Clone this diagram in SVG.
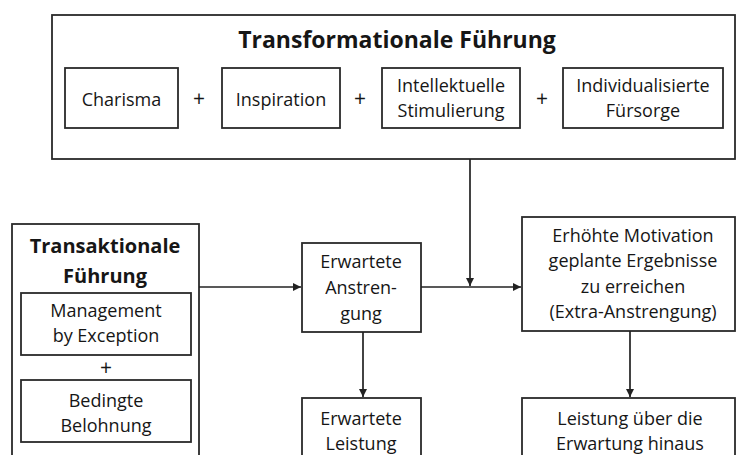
<svg xmlns="http://www.w3.org/2000/svg" width="736" height="455" viewBox="0 0 736 455">
<style>
.box{fill:#fff;stroke:#2a2a2a;stroke-width:1.8}
.t{font-family:"Open Sans","Liberation Sans",sans-serif;font-size:18px;fill:#161616;text-anchor:middle}
.p{font-size:21px}
.b{font-weight:bold;font-size:20px}
.h{font-weight:bold;font-size:23px}
.c{stroke:#222;stroke-width:1.7;fill:none}
</style>
<defs>
<marker id="ar" viewBox="0 0 10 10" refX="10" refY="5" markerWidth="9" markerHeight="8" markerUnits="userSpaceOnUse" orient="auto">
<path d="M0,0 L10,5 L0,10 z" fill="#222"/>
</marker>
</defs>
<rect width="736" height="455" fill="#fff"/>
<g id="transformational">
<rect class="box" x="52" y="15" width="683" height="144"/>
<text class="t h" x="397" y="48">Transformationale Führung</text>
</g>
<g id="charisma">
<rect class="box" x="65" y="68" width="113" height="60"/>
<text class="t" x="121.5" y="106">Charisma</text>
</g>
<text class="t p" x="199" y="106">+</text>
<g id="inspiration">
<rect class="box" x="222" y="68" width="118" height="60"/>
<text class="t" x="281" y="106">Inspiration</text>
</g>
<text class="t p" x="360" y="106">+</text>
<g id="stimulierung">
<rect class="box" x="382" y="68" width="138" height="60"/>
<text class="t" x="451" y="92">Intellektuelle</text>
<text class="t" x="451" y="117">Stimulierung</text>
</g>
<text class="t p" x="542" y="106">+</text>
<g id="fuersorge">
<rect class="box" x="563" y="68" width="160" height="60"/>
<text class="t" x="643" y="92">Individualisierte</text>
<text class="t" x="643" y="117">Fürsorge</text>
</g>
<g id="transaktional">
<rect class="box" x="12" y="224" width="187" height="240"/>
<text class="t b" x="105" y="253">Transaktionale</text>
<text class="t b" x="105" y="283">Führung</text>
</g>
<g id="management">
<rect class="box" x="21" y="293" width="170" height="62"/>
<text class="t" x="106" y="317">Management</text>
<text class="t" x="106" y="342">by Exception</text>
</g>
<text class="t p" x="106" y="375">+</text>
<g id="belohnung">
<rect class="box" x="21" y="380" width="170" height="62"/>
<text class="t" x="106" y="407">Bedingte</text>
<text class="t" x="106" y="432">Belohnung</text>
</g>
<g id="erw-anstrengung">
<rect class="box" x="302" y="243" width="119" height="89"/>
<text class="t" x="361" y="268">Erwartete</text>
<text class="t" x="361" y="294">Anstren-</text>
<text class="t" x="361" y="320">gung</text>
</g>
<g id="motivation">
<rect class="box" x="522" y="217" width="213" height="114"/>
<text class="t" x="633" y="242">Erhöhte Motivation</text>
<text class="t" x="633" y="267">geplante Ergebnisse</text>
<text class="t" x="633" y="293">zu erreichen</text>
<text class="t" x="633" y="318">(Extra-Anstrengung)</text>
</g>
<g id="erw-leistung">
<rect class="box" x="302" y="398" width="119" height="70"/>
<text class="t" x="361" y="425">Erwartete</text>
<text class="t" x="361" y="450">Leistung</text>
</g>
<g id="leistung">
<rect class="box" x="522" y="398" width="213" height="70"/>
<text class="t" x="630" y="425">Leistung über die</text>
<text class="t" x="630" y="450">Erwartung hinaus</text>
</g>
<g id="connectors">
<line class="c" x1="470" y1="159" x2="470" y2="286" marker-end="url(#ar)"/>
<line class="c" x1="199" y1="287" x2="301" y2="287" marker-end="url(#ar)"/>
<line class="c" x1="421" y1="287" x2="521" y2="287" marker-end="url(#ar)"/>
<line class="c" x1="363" y1="332" x2="363" y2="397" marker-end="url(#ar)"/>
<line class="c" x1="630" y1="331" x2="630" y2="397" marker-end="url(#ar)"/>
</g>
</svg>
